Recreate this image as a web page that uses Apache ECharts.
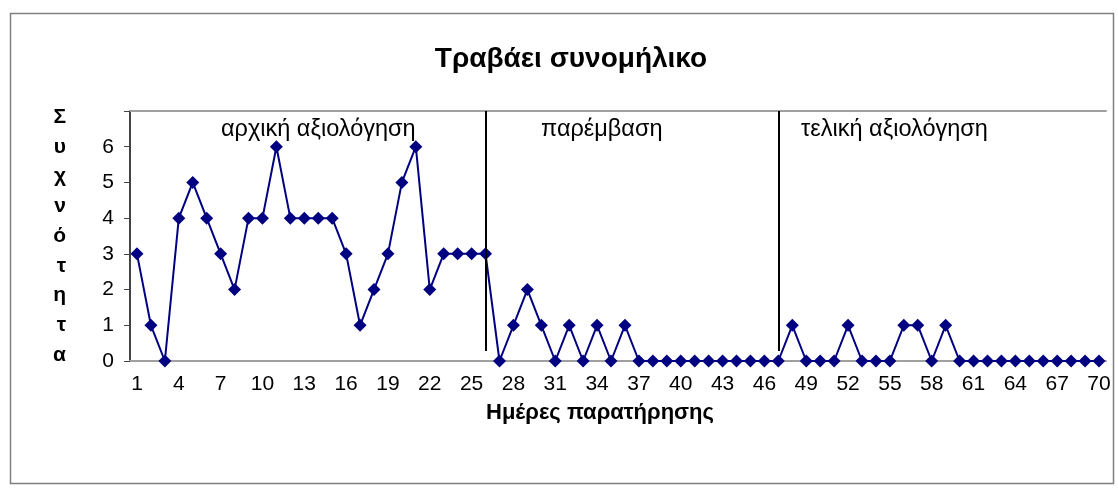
<!DOCTYPE html>
<html>
<head>
<meta charset="utf-8">
<script src="https://cdn.jsdelivr.net/npm/echarts@6/dist/echarts.min.js"></script>
<style>
  html, body { margin: 0; padding: 0; background: #fff; }
  #main { width: 1118px; height: 488px; }
</style>
</head>
<body>
<div id="main"></div>
<script>
// ημέρες 1..70
var days = [];
for (var d = 1; d <= 70; d++) days.push(String(d));

var values = [
    3, 1, 0, 4, 5, 4, 3, 2, 4, 4,
    6, 4, 4, 4, 4, 3, 1, 2, 3, 5,
    6, 2, 3, 3, 3, 3, 0, 1, 2, 1,
    0, 1, 0, 1, 0, 1, 0, 0, 0, 0,
    0, 0, 0, 0, 0, 0, 0, 1, 0, 0,
    0, 1, 0, 0, 0, 1, 1, 0, 1, 0,
    0, 0, 0, 0, 0, 0, 0, 0, 0, 0
];

// όρια φάσεων (θέση στον άξονα, δείκτης κατηγορίας)
var phaseBreaks = [25.35, 45.8];
var phaseNames = ['αρχική αξιολόγηση', 'παρέμβαση', 'τελική αξιολόγηση'];
var yTicks = [0, 1, 2, 3, 4, 5, 6];

var myChart = echarts.init(document.getElementById('main'));

var font = 'Liberation Sans, Arial, sans-serif';

var option = {
    backgroundColor: '#fff',
    animation: false,
    title: {
        text: 'Τραβάει συνομήλικο',
        left: 566,
        top: 40,
        textAlign: 'center',
        textStyle: { fontFamily: font, fontSize: 28, fontWeight: 'bold', color: '#000' }
    },
    graphic: [
        {
            type: 'rect',
            shape: { x: 10.5, y: 13.5, width: 1103, height: 470 },
            style: { fill: 'none', stroke: '#7f7f7f', lineWidth: 1.5 },
            silent: true,
            z: -1
        },
        { type: 'text', left: 221, top: 118, style: { text: phaseNames[0], font: '23.5px ' + font, fill: '#000' } },
        { type: 'text', left: 541, top: 118, style: { text: phaseNames[1], font: '23.5px ' + font, fill: '#000' } },
        { type: 'text', left: 801, top: 118, style: { text: phaseNames[2], font: '23.5px ' + font, fill: '#000' } },
        { type: 'text', left: 486, top: 402, style: { text: 'Ημέρες παρατήρησης', font: 'bold 22px ' + font, fill: '#000' } }
    ],
    grid: { left: 130, right: 12, top: 111, bottom: 127 },
    xAxis: [{
        type: 'category',
        data: days,
        boundaryGap: true,
        axisLine: { lineStyle: { color: '#a0a0a0', width: 2 } },
        axisTick: { interval: 0, length: 7, lineStyle: { color: '#222', width: 1 } },
        axisLabel: { interval: 2, color: '#000', fontSize: 21, fontFamily: font, margin: 13 },
        splitLine: { show: false }
    }, {
        type: 'category',
        data: days,
        position: 'top',
        boundaryGap: true,
        axisLine: { lineStyle: { color: '#a0a0a0', width: 2 } },
        axisTick: { show: false },
        axisLabel: { show: false }
    }],
    yAxis: {
        type: 'value',
        min: 0,
        max: 7,
        interval: 1,
        name: 'Σ\nυ\nχ\nν\nό\nτ\nη\nτ\nα',
        nameLocation: 'middle',
        nameRotate: 0,
        nameGap: 64,
        nameTextStyle: { fontFamily: font, fontSize: 21, fontWeight: 'bold', color: '#000', lineHeight: 29.75 },
        axisLine: { show: true, lineStyle: { color: '#444', width: 2 } },
        axisTick: { show: true, length: 6, lineStyle: { color: '#444' } },
        axisLabel: {
            color: '#000', fontSize: 21, fontFamily: font, margin: 16,
            formatter: function (v) { return yTicks.indexOf(v) >= 0 ? v : ''; }
        },
        splitLine: { show: false }
    },
    series: [{
        name: 'Συχνότητα',
        type: 'line',
        data: values,
        showAllSymbol: true,
        symbol: 'diamond',
        symbolSize: 13,
        lineStyle: { color: '#000080', width: 2 },
        itemStyle: { color: '#000080' },
        markLine: {
            silent: true,
            symbol: 'none',
            label: { show: false },
            lineStyle: { color: '#000', width: 2, type: 'solid' },
            data: phaseBreaks.map(function (b) {
                return [{ coord: [b, 7] }, { coord: [b, 0.28] }];
            })
        }
    }]
};

myChart.setOption(option);
</script>
</body>
</html>
